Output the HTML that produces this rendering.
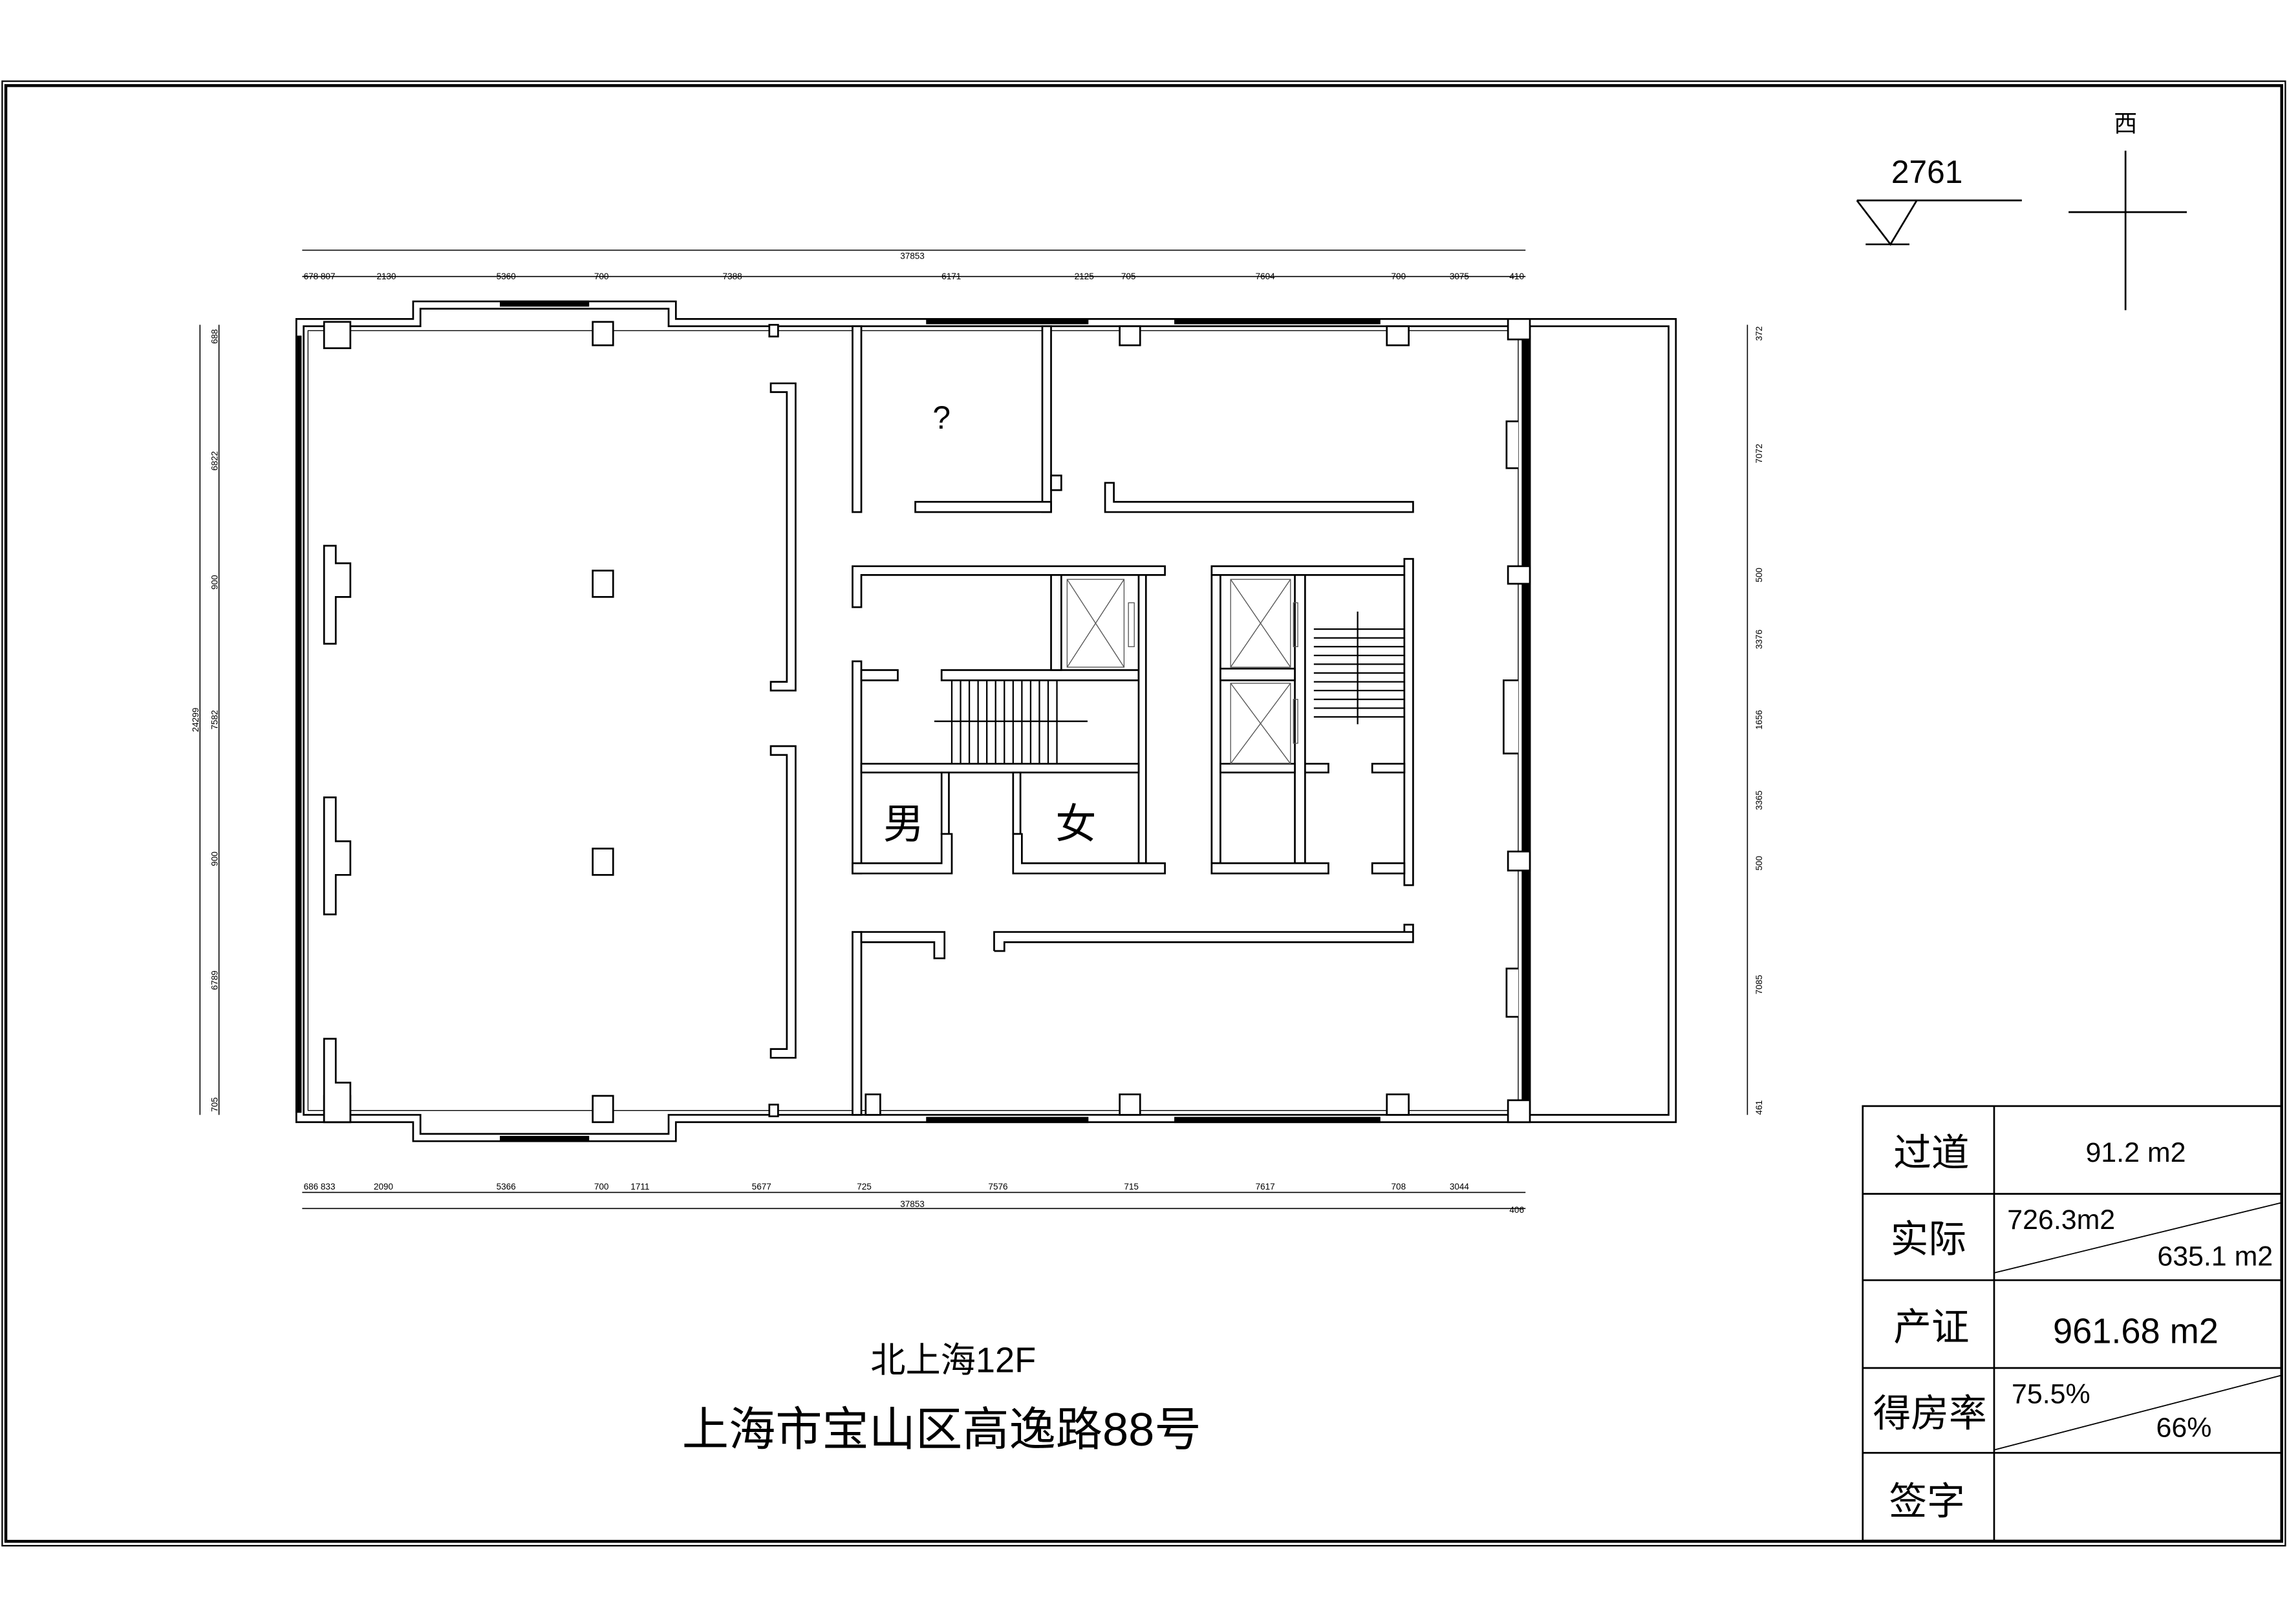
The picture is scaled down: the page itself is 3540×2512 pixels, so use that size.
<!DOCTYPE html>
<html><head><meta charset="utf-8"><style>
html,body{margin:0;padding:0;background:#fff}
svg{display:block}
text{font-family:"Liberation Sans","Noto Sans CJK SC",sans-serif;fill:#000}
</style></head><body>
<svg width="3540" height="2512" viewBox="0 0 1568 1110" preserveAspectRatio="none" xmlns="http://www.w3.org/2000/svg">
<rect width="1568" height="1110" fill="#fff"/>
<g fill="none" stroke="#000">
<rect x="1.5" y="55.5" width="1564" height="1001" stroke-width="1"/>
<rect x="4" y="58.5" width="1559" height="995" stroke-width="2"/>
</g>
<!-- building -->
<g fill="#fff" stroke="#000" stroke-width="1.2">
<path d="M203,218 H283 V206 H463 V218 H1148 V767 H463 V780 H283 V767 H203 Z"/>
<path d="M208,223 H288 V211 H458 V223 H1043 V762 H458 V775 H288 V762 H208 Z"/>
<path d="M211,226 H1040 V759 H211 Z" stroke-width="0.6"/>
<rect x="1048" y="223" width="95" height="539"/>
<!-- windows -->
<rect x="343" y="206" width="60" height="3" fill="#000"/>
<rect x="343" y="777" width="60" height="3" fill="#000"/>
<rect x="635" y="218" width="110" height="3" fill="#000"/>
<rect x="805" y="218" width="140" height="3" fill="#000"/>
<rect x="635" y="764" width="110" height="3" fill="#000"/>
<rect x="805" y="764" width="140" height="3" fill="#000"/>
<rect x="203" y="230" width="3" height="530" fill="#000"/>
<rect x="1043" y="230" width="5" height="530" fill="#000"/>
<!-- columns -->
<rect x="406" y="220" width="14" height="16"/>
<rect x="406" y="390" width="14" height="18"/>
<rect x="406" y="580" width="14" height="18"/>
<rect x="406" y="749" width="14" height="18"/>
<rect x="222" y="220" width="18" height="18"/>
<rect x="222" y="749" width="18" height="18"/>
<path d="M222,373 H230 V385 H240 V408 H230 V440 H222 Z"/>
<path d="M222,545 H230 V575 H240 V598 H230 V625 H222 Z"/>
<path d="M222,710 H230 V740 H240 V767 H222 Z"/>
<rect x="767" y="223" width="14" height="13"/>
<rect x="950" y="223" width="15" height="13"/>
<rect x="593" y="748" width="10" height="14"/>
<rect x="767" y="748" width="14" height="14"/>
<rect x="950" y="748" width="15" height="14"/>
<rect x="1033" y="218" width="15" height="14"/>
<rect x="1033" y="752" width="15" height="15"/>
<rect x="1033" y="387" width="15" height="12"/>
<rect x="1033" y="582" width="15" height="13"/>
<path d="M1040,288 H1032 V320 H1040"/>
<path d="M1040,465 H1030 V515 H1040"/>
<path d="M1040,662 H1032 V695 H1040"/>
<rect x="527" y="222" width="6" height="8"/>
<rect x="527" y="755" width="6" height="8"/>
<!-- column partitions -->
<path d="M528,262 H545 V472 H528 V466 H539 V268 H528 Z"/>
<path d="M528,510 H545 V723 H528 V717 H539 V516 H528 Z"/>
<!-- ? room -->
<rect x="584" y="223" width="6" height="127"/>
<rect x="714" y="223" width="6" height="127"/>
<rect x="627" y="343" width="93" height="7"/>
<rect x="720" y="325" width="7" height="10"/>
<path d="M757,330 H763 V343 H968 V350 H757 Z"/>
<!-- left core -->
<path d="M584,387 H798 V393 H590 V415 H584 Z"/>
<rect x="584" y="452" width="6" height="145"/>
<rect x="590" y="458" width="25" height="7"/>
<rect x="645" y="458" width="135" height="7"/>
<rect x="720" y="393" width="7" height="65"/>
<rect x="780" y="393" width="5" height="197"/>
<rect x="590" y="522" width="190" height="6"/>
<rect x="645" y="528" width="5" height="42"/>
<rect x="694" y="528" width="5" height="42"/>
<path d="M584,590 H645 V570 H652 V597 H584 Z"/>
<path d="M694,570 H700 V590 H798 V597 H694 Z"/>
<!-- right core -->
<rect x="830" y="387" width="132" height="6"/>
<rect x="962" y="382" width="6" height="223"/>
<rect x="830" y="393" width="6" height="197"/>
<rect x="887" y="393" width="7" height="197"/>
<rect x="836" y="457" width="51" height="8"/>
<rect x="836" y="522" width="51" height="6"/>
<rect x="894" y="522" width="16" height="6"/>
<rect x="940" y="522" width="22" height="6"/>
<rect x="830" y="590" width="80" height="7"/>
<rect x="940" y="590" width="22" height="7"/>
<!-- lower corridor -->
<rect x="584" y="637" width="6" height="125"/>
<path d="M590,637 H647 V655 H640 V644 H590 Z"/>
<path d="M681,650 V637 H968 V632 H962 V637 M681,650 H688 V644 H968 V637"/>
</g>
<!-- elevators -->
<g fill="none" stroke="#555" stroke-width="0.6">
<rect x="731" y="396" width="39" height="60"/><path d="M731,396 L770,456 M770,396 L731,456"/><rect x="773" y="412" width="4" height="30"/>
<rect x="843" y="396" width="41" height="60"/><path d="M843,396 L884,456 M884,396 L843,456"/><rect x="886" y="412" width="3" height="30"/>
<rect x="843" y="467" width="41" height="55"/><path d="M843,467 L884,522 M884,467 L843,522"/><rect x="886" y="478" width="3" height="30"/>
</g>
<!-- stairs -->
<g stroke="#000" stroke-width="1">
<path d="M652,465V522M658,465V522M664,465V522M670,465V522M676,465V522M682,465V522M688,465V522M694,465V522M700,465V522M706,465V522M712,465V522M718,465V522M724,465V522"/>
<path d="M640,493H745"/>
<path d="M900,430H962M900,436H962M900,442H962M900,448H962M900,454H962M900,460H962M900,466H962M900,472H962M900,478H962M900,484H962M900,490H962"/>
<path d="M930,418V495"/>
</g>
<text x="645" y="293" font-size="22" text-anchor="middle">?</text>
<text x="619" y="573" font-size="28" text-anchor="middle">男</text>
<text x="737" y="573" font-size="28" text-anchor="middle">女</text>
<!-- dimensions -->
<g stroke="#000" stroke-width="0.7">
<path d="M207,171H1045M207,189H1045"/>
<path d="M207,815H1045M207,826H1045"/>
<path d="M137,222V762M150,222V762"/>
<path d="M1197,222V762"/>
</g>
<g font-size="6">
<text x="625" y="177" text-anchor="middle">37853</text>
<text x="208" y="191">678 807</text><text x="258" y="191">2130</text><text x="340" y="191">5360</text><text x="407" y="191">700</text><text x="495" y="191">7388</text><text x="645" y="191">6171</text><text x="736" y="191">2125</text><text x="768" y="191">705</text><text x="860" y="191">7604</text><text x="953" y="191">700</text><text x="993" y="191">3075</text><text x="1034" y="191">410</text>
<text x="208" y="813">686 833</text><text x="256" y="813">2090</text><text x="340" y="813">5366</text><text x="407" y="813">700</text><text x="432" y="813">1711</text><text x="515" y="813">5677</text><text x="587" y="813">725</text><text x="677" y="813">7576</text><text x="770" y="813">715</text><text x="860" y="813">7617</text><text x="953" y="813">708</text><text x="993" y="813">3044</text><text x="1034" y="829">406</text>
<text x="625" y="825" text-anchor="middle">37853</text>
</g>
<g font-size="6">
<text transform="translate(136,492) rotate(-90)" text-anchor="middle">24299</text>
<text transform="translate(149,230) rotate(-90)" text-anchor="middle">688</text>
<text transform="translate(149,315) rotate(-90)" text-anchor="middle">6822</text>
<text transform="translate(149,398) rotate(-90)" text-anchor="middle">900</text>
<text transform="translate(149,492) rotate(-90)" text-anchor="middle">7582</text>
<text transform="translate(149,587) rotate(-90)" text-anchor="middle">900</text>
<text transform="translate(149,670) rotate(-90)" text-anchor="middle">6789</text>
<text transform="translate(149,755) rotate(-90)" text-anchor="middle">705</text>
<text transform="translate(1207,228) rotate(-90)" text-anchor="middle">372</text>
<text transform="translate(1207,310) rotate(-90)" text-anchor="middle">7072</text>
<text transform="translate(1207,393) rotate(-90)" text-anchor="middle">500</text>
<text transform="translate(1207,437) rotate(-90)" text-anchor="middle">3376</text>
<text transform="translate(1207,492) rotate(-90)" text-anchor="middle">1656</text>
<text transform="translate(1207,547) rotate(-90)" text-anchor="middle">3365</text>
<text transform="translate(1207,590) rotate(-90)" text-anchor="middle">500</text>
<text transform="translate(1207,673) rotate(-90)" text-anchor="middle">7085</text>
<text transform="translate(1207,757) rotate(-90)" text-anchor="middle">461</text>
</g>
<!-- compass / level -->
<g stroke="#000" stroke-width="1.2" fill="none">
<path d="M1272,137H1385M1272,137L1295,167L1313,137M1278,167H1308"/>
<path d="M1456,103V212M1417,145H1498"/>
</g>
<text x="1320" y="125" font-size="22" text-anchor="middle">2761</text>
<text x="1456" y="90" font-size="16" text-anchor="middle">西</text>
<!-- titles -->
<text x="653" y="938" font-size="24" text-anchor="middle">北上海12F</text>
<text x="645" y="988" font-size="32" text-anchor="middle">上海市宝山区高逸路88号</text>
<!-- table -->
<g stroke="#000" stroke-width="1.2" fill="none">
<rect x="1276" y="756" width="287" height="297"/>
<path d="M1366,756V1053M1276,816H1563M1276,875H1563M1276,935H1563M1276,993H1563"/>
<path d="M1366,870L1563,822M1366,991L1563,940" stroke-width="0.8"/>
</g>
<g font-size="26" text-anchor="middle">
<text x="1323" y="797">过道</text>
<text x="1321" y="856">实际</text>
<text x="1323" y="916">产证</text>
<text x="1322" y="975">得房率</text>
<text x="1320" y="1035">签字</text>
</g>
<text x="1463" y="794" font-size="19" text-anchor="middle">91.2 m2</text>
<text x="1375" y="840" font-size="19">726.3m2</text>
<text x="1557" y="865" font-size="19" text-anchor="end">635.1 m2</text>
<text x="1463" y="918" font-size="24" text-anchor="middle">961.68 m2</text>
<text x="1378" y="959" font-size="19">75.5%</text>
<text x="1515" y="982" font-size="19" text-anchor="end">66%</text>
</svg>
</body></html>
